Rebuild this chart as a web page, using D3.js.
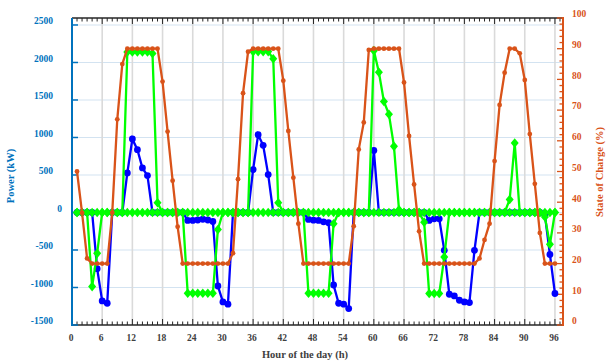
<!DOCTYPE html>
<html>
<head>
<meta charset="utf-8">
<script src="https://cdn.jsdelivr.net/npm/d3@7"></script>
<style>
  body { margin: 0; background: #fff; }
  svg { display: block; }
  text { font-family: "Liberation Serif", "DejaVu Serif", serif; font-weight: bold; }
</style>
</head>
<body>
<div id="chart"></div>
<script>
// hours 1..96
var hours = d3.range(1, 97);

// battery power (kW), blue
var powerBattery = [
  0, 0, 0, 0, -749, -1179, -1210, 0, 0, 0,
  528, 980, 838, 594, 492, 0, 0, 0, 0, 0,
  0, 0, -106, -106, -100, -90, -100, -120, -980, -1192,
  -1223, 0, 0, 0, 0, 572, 1037, 895, 505, 0,
  0, 0, 0, 0, 0, 0, -93, -102, -106, -124,
  -137, -967, -1210, -1223, -1281, 0, 0, 0, 0, 828,
  0, 0, 0, 0, 0, 0, 0, 0, 0, 0,
  -106, -84, -84, -505, -1090, -1113, -1170, -1192, -1201, -505,
  0, 0, 0, 0, 0, 0, 0, 0, 0, 0,
  0, 0, 0, -30, -560, -1080
];

// grid power (kW), green
var powerGrid = [
  0, 0, 0, -988, -545, 0, 0, 0, 0, 0,
  2140, 2140, 2140, 2140, 2140, 2120, 129, 0, 0, 0,
  0, 0, -1077, -1077, -1077, -1077, -1077, -1077, -226, 0,
  0, 0, 0, 0, 0, 2145, 2145, 2145, 2145, 2050,
  129, 0, 0, 0, 0, 0, -1077, -1077, -1077, -1077,
  -1077, -150, 0, 0, 0, 0, 0, 0, 0, 2158,
  1870, 1480, 1310, 882, 35, 0, 0, 0, 0, -129,
  -1081, -1081, -1081, -594, 0, 0, 0, 0, 0, 0,
  0, 0, 0, 0, 0, 0, 173, 926, 0, 0,
  0, 0, 0, -60, -425, 0
];

// second green series, flat at zero over the whole horizon
var powerFlat = [
  0, 0, 0, 0, 0, 0, 0, 0, 0, 0,
  0, 0, 0, 0, 0, 0, 0, 0, 0, 0,
  0, 0, 0, 0, 0, 0, 0, 0, 0, 0,
  0, 0, 0, 0, 0, 0, 0, 0, 0, 0,
  0, 0, 0, 0, 0, 0, 0, 0, 0, 0,
  0, 0, 0, 0, 0, 0, 0, 0, 0, 0,
  0, 0, 0, 0, 0, 0, 0, 0, 0, 0,
  0, 0, 0, 0, 0, 0, 0, 0, 0, 0,
  0, 0, 0, 0, 0, 0, 0, 0, 0, 0,
  0, 0, 0, 0, 0, 0
];

// state of charge (%), orange
var soc = [
  50, 36.5, 21.7, 20, 20, 20, 20, 36.6, 67, 85,
  90, 90, 90, 90, 90, 90, 90, 79.3, 63, 47,
  32, 20, 20, 20, 20, 20, 20, 20, 20, 20,
  20, 23.4, 47.5, 75.5, 89, 90, 90, 90, 90, 90,
  90, 79.6, 63.2, 48, 33, 20, 20, 20, 20, 20,
  20, 20, 20, 20, 20, 32.2, 57.2, 66, 89.6, 90,
  90, 90, 90, 90, 90, 79, 61.6, 45.8, 30.5, 20,
  20, 20, 20, 20, 20, 20, 20, 20, 20, 20,
  21.7, 27.7, 33, 53.4, 71.7, 82.2, 90, 90, 88.5, 79.8,
  62.2, 46, 30, 20, 20, 20
];

var xTicks = d3.range(0, 97, 6);
var leftTicks = [-1500, -1000, -500, 0, 500, 1000, 1500, 2000, 2500];
var rightTicks = d3.range(0, 101, 10);

(function () {
  var width = 609, height = 363;
  var pl = 72, pr = 563, pt = 18, pb = 325;

  var blue = '#0000ff', green = '#00ff00', orange = '#d95319', axBlue = '#0072bd', dark = '#404040';

  var svg = d3.select('#chart').append('svg')
    .attr('width', width)
    .attr('height', height);

  var x = d3.scaleLinear().domain([0, 97.6]).range([pl, pr]);
  var yL = d3.scaleLinear().domain([-1500, 2593]).range([pb, pt]);
  var yR = d3.scaleLinear().domain([0, 100]).range([pb, pt]);

  // grid lines
  svg.append('g').selectAll('line')
    .data(leftTicks.filter(function(d) { return d > -1500; }))
    .enter().append('line')
    .attr('x1', pl).attr('x2', pr)
    .attr('y1', function(d) { return yL(d); })
    .attr('y2', function(d) { return yL(d); })
    .attr('stroke', '#d3e3f1')
    .attr('stroke-width', 1.2);

  svg.append('g').selectAll('line')
    .data(xTicks.filter(function(d) { return d > 0; }))
    .enter().append('line')
    .attr('x1', function(d) { return x(d); })
    .attr('x2', function(d) { return x(d); })
    .attr('y1', pt).attr('y2', pb)
    .attr('stroke', '#dadada')
    .attr('stroke-width', 1.6);

  // top and bottom axes (black frame with inward ticks)
  var frame = svg.append('g').attr('stroke', '#262626');
  frame.append('line').attr('x1', pl).attr('x2', pr).attr('y1', pt).attr('y2', pt).attr('stroke-width', 1.5);
  frame.append('line').attr('x1', pl).attr('x2', pr).attr('y1', pb).attr('y2', pb).attr('stroke-width', 1.5);
  var minorX = d3.range(1, 98);
  frame.selectAll('.tt')
    .data(minorX).enter().append('line')
    .attr('x1', function(d) { return x(d); })
    .attr('x2', function(d) { return x(d); })
    .attr('y1', pt)
    .attr('y2', function(d) { return pt + (d % 6 === 0 ? 6 : 3.5); })
    .attr('stroke-width', 1);
  frame.selectAll('.bt')
    .data(minorX).enter().append('line')
    .attr('x1', function(d) { return x(d); })
    .attr('x2', function(d) { return x(d); })
    .attr('y1', pb)
    .attr('y2', function(d) { return pb - (d % 6 === 0 ? 6 : 3.5); })
    .attr('stroke-width', 1);

  // left axis
  var la = svg.append('g');
  la.append('line').attr('x1', pl).attr('x2', pl).attr('y1', pt).attr('y2', pb + 1)
    .attr('stroke', axBlue).attr('stroke-width', 2);
  la.selectAll('.lt').data(leftTicks).enter().append('line')
    .attr('x1', pl).attr('x2', pl + 6)
    .attr('y1', function(d) { return yL(d); })
    .attr('y2', function(d) { return yL(d); })
    .attr('stroke', axBlue).attr('stroke-width', 1.5);
  la.selectAll('text').data(leftTicks).enter().append('text')
    .attr('x', function(d) { return d === 0 ? 62 : 53; })
    .attr('y', function(d) { return yL(d) - 4; })
    .attr('dy', '0.35em')
    .attr('text-anchor', 'end')
    .attr('font-size', '9.5px')
    .attr('fill', axBlue)
    .text(function(d) { return d; });

  // right axis
  var ra = svg.append('g');
  ra.append('line').attr('x1', pr).attr('x2', pr).attr('y1', pt - 1).attr('y2', pb + 1)
    .attr('stroke', orange).attr('stroke-width', 2);
  ra.selectAll('.rt').data(d3.range(0, 101, 2)).enter().append('line')
    .attr('x1', pr)
    .attr('x2', function(d) { return pr - (d % 10 === 0 ? 6 : 3.5); })
    .attr('y1', function(d) { return yR(d); })
    .attr('y2', function(d) { return yR(d); })
    .attr('stroke', orange).attr('stroke-width', 1.3);
  ra.selectAll('text').data(rightTicks).enter().append('text')
    .attr('x', 572)
    .attr('y', function(d) { return yR(d) - 4; })
    .attr('dy', '0.35em')
    .attr('font-size', '9.5px')
    .attr('fill', orange)
    .text(function(d) { return d; });

  // x labels
  svg.append('g').selectAll('text').data(xTicks).enter().append('text')
    .attr('x', function(d) { return x(d) - 1; })
    .attr('y', 338)
    .attr('dy', '0.35em')
    .attr('text-anchor', 'middle')
    .attr('font-size', '9.5px')
    .attr('fill', dark)
    .text(function(d) { return d; });

  // titles
  svg.append('text')
    .attr('x', 305).attr('y', 358)
    .attr('text-anchor', 'middle')
    .attr('font-size', '10.5px')
    .attr('fill', dark)
    .text('Hour of the day (h)');

  svg.append('text')
    .attr('transform', 'translate(14,176) rotate(-90)')
    .attr('text-anchor', 'middle')
    .attr('font-size', '10.5px')
    .attr('fill', axBlue)
    .text('Power (kW)');

  svg.append('text')
    .attr('transform', 'translate(603,172) rotate(-90)')
    .attr('text-anchor', 'middle')
    .attr('font-size', '10.5px')
    .attr('fill', orange)
    .text('State of Charge (%)');

  var lineL = d3.line()
    .x(function(d, i) { return x(hours[i]); })
    .y(function(d) { return yL(d); });
  var lineR = d3.line()
    .x(function(d, i) { return x(hours[i]); })
    .y(function(d) { return yR(d); });

  // battery power
  svg.append('path')
    .attr('d', lineL(powerBattery))
    .attr('fill', 'none')
    .attr('stroke', blue)
    .attr('stroke-width', 2.3);
  svg.append('g').selectAll('circle').data(powerBattery).enter().append('circle')
    .attr('cx', function(d, i) { return x(hours[i]); })
    .attr('cy', function(d) { return yL(d); })
    .attr('r', 3.4)
    .attr('fill', blue);

  // green series with diamond markers
  function drawGreen(vals) {
    svg.append('path')
      .attr('d', lineL(vals))
      .attr('fill', 'none')
      .attr('stroke', green)
      .attr('stroke-width', 2.3);
    svg.append('g').selectAll('path').data(vals).enter().append('path')
      .attr('transform', function(d, i) { return 'translate(' + x(hours[i]) + ',' + yL(d) + ')'; })
      .attr('d', 'M0,-4.8L4,0L0,4.8L-4,0Z')
      .attr('fill', green);
  }
  drawGreen(powerGrid);
  drawGreen(powerFlat);

  // SOC (right axis)
  svg.append('path')
    .attr('d', lineR(soc))
    .attr('fill', 'none')
    .attr('stroke', orange)
    .attr('stroke-width', 2.3);
  svg.append('g').selectAll('circle').data(soc).enter().append('circle')
    .attr('cx', function(d, i) { return x(hours[i]); })
    .attr('cy', function(d) { return yR(d); })
    .attr('r', 2.4)
    .attr('fill', orange);
}());
</script>
</body>
</html>
